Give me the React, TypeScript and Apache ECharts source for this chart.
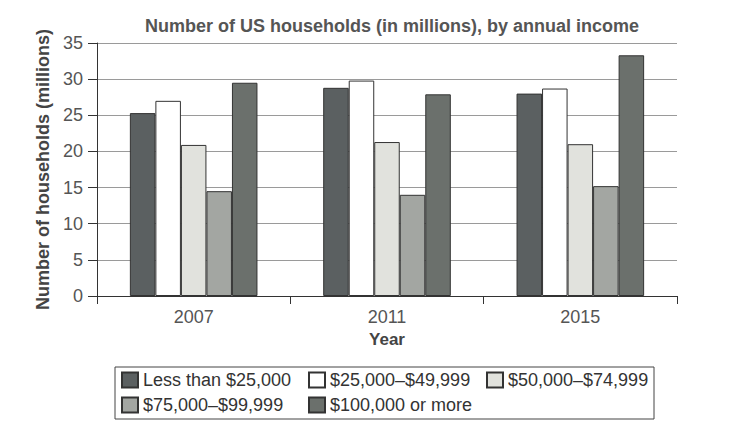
import React, { useEffect, useRef } from "react";
import * as echarts from "echarts";

const years = ["2007", "2011", "2015"];
const seriesNames = [
  "Less than $25,000",
  "$25,000–$49,999",
  "$50,000–$74,999",
  "$75,000–$99,999",
  "$100,000 or more",
];
const lessThan25k = [25.3, 28.8, 28.0];
const from25kTo50k = [27.0, 29.8, 28.7];
const from50kTo75k = [20.9, 21.3, 21.0];
const from75kTo100k = [14.5, 14.0, 15.2];
const over100k = [29.5, 27.9, 33.3];
const yTicks = { min: 0, max: 35, interval: 5 };

const colors = ["#5b6061", "#ffffff", "#e1e2dd", "#a3a6a2", "#6b706c"];
const FONT = "'Liberation Sans', Arial, Helvetica, sans-serif";

export default function App() {
  const ref = useRef<HTMLDivElement>(null);
  useEffect(() => {
    if (!ref.current) return;
    const chart = echarts.init(ref.current, undefined, { renderer: "svg" });
    const values = [lessThan25k, from25kTo50k, from50kTo75k, from75kTo100k, over100k];
    const legendBase = {
      orient: "vertical" as const,
      top: 371,
      padding: 0,
      itemWidth: 16,
      itemHeight: 15,
      itemGap: 7,
      icon: "rect",
      textStyle: { fontSize: 18, color: "#333", fontFamily: FONT, lineHeight: 18 },
    };
    chart.setOption({
      animation: false,
      title: {
        text: "Number of US households (in millions), by annual income",
        left: 387,
        textAlign: "center",
        top: 12,
        textStyle: { fontSize: 18, fontWeight: "bold", color: "#555", fontFamily: FONT },
      },
      grid: { left: 97, right: 65, top: 43, bottom: 148 },
      legend: [
        { ...legendBase, left: 121, data: [seriesNames[0], seriesNames[3]] },
        { ...legendBase, left: 308, data: [seriesNames[1], seriesNames[4]] },
        { ...legendBase, left: 486, data: [seriesNames[2]] },
      ],
      xAxis: {
        type: "category",
        data: years,
        name: "Year",
        nameLocation: "middle",
        nameGap: 35,
        nameTextStyle: { fontSize: 17, fontWeight: "bold", color: "#444", fontFamily: FONT },
        axisLine: { lineStyle: { color: "#333", width: 1 } },
        axisTick: { show: true, length: 8, lineStyle: { color: "#333" } },
        axisLabel: { fontSize: 18, color: "#555", margin: 12, fontFamily: FONT },
      },
      yAxis: {
        type: "value",
        min: yTicks.min,
        max: yTicks.max,
        interval: yTicks.interval,
        name: "Number of households (millions)",
        nameLocation: "middle",
        nameGap: 39,
        nameTextStyle: { fontSize: 18, fontWeight: "bold", color: "#444", fontFamily: FONT },
        axisLine: { show: true, lineStyle: { color: "#333", width: 1 } },
        axisTick: { show: true, length: 9, lineStyle: { color: "#333" } },
        axisLabel: { fontSize: 18, color: "#555", margin: 14, fontFamily: FONT },
        splitLine: { show: true, lineStyle: { color: "#9a9a9a", width: 1 } },
      },
      graphic: [
        {
          type: "rect",
          shape: { x: 115, y: 367, width: 539, height: 52 },
          style: { fill: "none", stroke: "#444", lineWidth: 1 },
        },
      ],
      series: seriesNames.map((name, i) => ({
        name,
        type: "bar",
        data: values[i],
        barGap: "0%",
        barCategoryGap: "34%",
        itemStyle: { color: colors[i], borderColor: "#333", borderWidth: 1 },
      })),
    });
    return () => chart.dispose();
  }, []);
  return (
    <div
      ref={ref}
      style={{ position: "fixed", left: 0, top: 0, width: 742, height: 444, background: "#fff" }}
    />
  );
}
